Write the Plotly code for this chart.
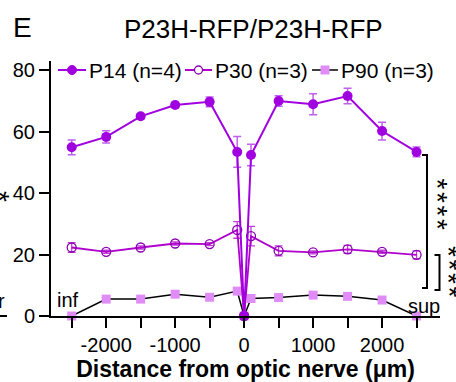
import plotly.graph_objects as go

# ---- data ----
distance = [-2500, -2000, -1500, -1000, -500, -100, 0, 100, 500, 1000, 1500, 2000, 2500]

p14 = [54.9, 58.3, 65.0, 68.7, 69.7, 53.4, 0, 52.4, 70.0, 68.9, 71.6, 60.2, 53.4]
p14_err = [2.4, 2.0, 0.8, 0.8, 1.6, 5.0, 0, 3.5, 1.7, 3.4, 2.5, 2.9, 1.6]

p30 = [22.3, 20.9, 22.3, 23.6, 23.4, 28.0, 0, 26.0, 21.2, 20.7, 21.7, 20.9, 19.9]
p30_err = [1.6, 0.5, 0.5, 0.5, 0.5, 2.7, 0, 3.2, 1.6, 0.5, 1.3, 0.5, 1.3]

p90 = [0, 5.5, 5.5, 7.1, 6.1, 8.1, 0, 5.7, 6.0, 6.8, 6.4, 5.2, 0]
p90_err = [0, 0.3, 0.3, 0.3, 0.3, 1.0, 0, 0.3, 0.3, 0.3, 0.3, 0.3, 0]

series_names = ["P14 (n=4)", "P30 (n=3)", "P90 (n=3)"]

x_tickvals = [-2500, -2000, -1500, -1000, -500, 0, 500, 1000, 1500, 2000, 2500]
x_ticktext = ["", "-2000", "", "-1000", "", "0", "", "1000", "", "2000", ""]
y_tickvals = [0, 20, 40, 60, 80]

FONT = "Arial, Liberation Sans, sans-serif"
C14, C30, C30M, C90 = "#A000E0", "#B000CC", "#8A00B0", "#E08CF6"

fig = go.Figure()

fig.add_trace(go.Scatter(
    x=distance, y=p90, name=series_names[2], mode="lines+markers",
    line=dict(color="black", width=1.5),
    marker=dict(symbol="square", size=9, color=C90, line=dict(width=0)),
    error_y=dict(type="data", array=p90_err, color="black", thickness=1.2, width=3),
    cliponaxis=False,
))
fig.add_trace(go.Scatter(
    x=distance, y=p30, name=series_names[1], mode="lines+markers",
    line=dict(color=C30, width=1.8),
    marker=dict(symbol="circle-open", size=9, color=C30M, line=dict(width=1.3)),
    error_y=dict(type="data", array=p30_err, color="#C040D8", thickness=1.3, width=4),
    cliponaxis=False,
))
fig.add_trace(go.Scatter(
    x=distance, y=p14, name=series_names[0], mode="lines+markers",
    line=dict(color=C14, width=2),
    marker=dict(symbol="circle", size=10, color=C14),
    error_y=dict(type="data", array=p14_err, color="#C060EE", thickness=1.5, width=4),
    cliponaxis=False,
))

# pixel -> paper helpers for decorations (plot area 51..440 x, 61..316 y)
L, R, T, B = 51, 440, 61, 316
def px(xp):
    return (xp - L) / (R - L)
def py(yp):
    return (B - yp) / (B - T)

shapes = []
def bracket(x, y0, y1, arm):
    shapes.append(dict(type="path", xref="paper", yref="paper",
                       path=f"M {px(x-arm)} {py(y0)} L {px(x)} {py(y0)} L {px(x)} {py(y1)} L {px(x-arm)} {py(y1)}",
                       line=dict(color="black", width=2)))

bracket(427, 155, 288, 5)
bracket(439.5, 255, 290, 5)

def txt(t, x, y, size, angle=0, anchor="center"):
    return dict(text=t, x=px(x), y=py(y), xref="paper", yref="paper", showarrow=False,
                xanchor=anchor, yanchor="middle", textangle=angle,
                font=dict(family=FONT, size=size, color="black"))

annotations = [
    txt("E", 22, 27, 28),
    txt("P23H-RFP/P23H-RFP", 253, 29, 26),
    txt("inf", 68, 300, 20),
    txt("sup", 424, 306, 20),
    txt("r", 1, 301, 20),
]
# significance asterisks (rotated, spaced)
for cy in [184, 197.5, 211, 224.5]:
    annotations.append(txt("*", 437.5, cy, 28, 90))
for cy in [252, 265.5, 279, 292.5]:
    annotations.append(txt("*", 449, cy, 28, 90))
annotations.append(txt("*", 0, 196, 28, 90))

shapes.append(dict(type="line", xref="paper", yref="paper", x0=px(-5), x1=px(7),
                   y0=py(316), y1=py(316), line=dict(color="black", width=2)))

# ---- hand-built horizontal legend (line + symbol + label) ----
LY = 70
legend_items = [
    (series_names[0], 58, 86, C14, "circle-fill"),
    (series_names[1], 185, 212, C30, "circle-open"),
    (series_names[2], 312, 338, "black", "square"),
]
for name, x0, x1, lc, sym in legend_items:
    shapes.append(dict(type="line", xref="paper", yref="paper", x0=px(x0), x1=px(x1),
                       y0=py(LY), y1=py(LY), line=dict(color=lc, width=2 if sym != "square" else 1.5)))
    cx = (x0 + x1) / 2
    if sym == "circle-fill":
        shapes.append(dict(type="circle", xref="paper", yref="paper",
                           x0=px(cx - 4.5), x1=px(cx + 4.5), y0=py(LY + 4.5), y1=py(LY - 4.5),
                           fillcolor=C14, line=dict(color=C14, width=1)))
    elif sym == "circle-open":
        shapes.append(dict(type="circle", xref="paper", yref="paper",
                           x0=px(cx - 4), x1=px(cx + 4), y0=py(LY + 4), y1=py(LY - 4),
                           fillcolor="white", line=dict(color=C30M, width=1.3)))
    else:
        shapes.append(dict(type="rect", xref="paper", yref="paper",
                           x0=px(cx - 4.5), x1=px(cx + 4.5), y0=py(LY + 4.5), y1=py(LY - 4.5),
                           fillcolor=C90, line=dict(width=0)))
    annotations.append(txt(name, x1 + 1, LY, 21, 0, "left"))

fig.update_layout(
    width=456, height=382,
    margin=dict(l=L, r=456 - R, t=T, b=382 - B, autoexpand=False),
    paper_bgcolor="white", plot_bgcolor="white",
    font=dict(family=FONT, color="black"),
    showlegend=False,
    xaxis=dict(range=[-2800, 2840], tickmode="array", tickvals=x_tickvals, ticktext=x_ticktext,
               ticks="outside", ticklen=10, tickwidth=2, tickcolor="black",
               showline=True, linecolor="black", linewidth=2, showgrid=False, zeroline=False,
               tickfont=dict(family=FONT, size=20),
               title=dict(text="<b>Distance from optic nerve (μm)</b>", font=dict(family=FONT, size=23), standoff=5)),
    yaxis=dict(range=[0, 83], tickmode="array", tickvals=y_tickvals,
               ticks="outside", ticklen=10, tickwidth=2, tickcolor="black",
               showline=True, linecolor="black", linewidth=2, showgrid=False, zeroline=False,
               tickfont=dict(family=FONT, size=20)),
    shapes=shapes, annotations=annotations,
)

fig.write_html("out.html", config={"displayModeBar": False},
               post_script="document.body.style.margin='0px';")
